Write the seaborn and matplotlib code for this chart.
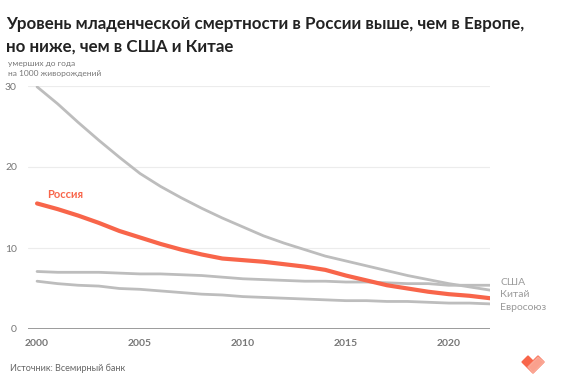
import seaborn as sns
import pandas as pd
import numpy as np
import matplotlib.pyplot as plt
from matplotlib.patches import Polygon

years = list(range(2000, 2023))
russia = [15.5, 14.8, 14.0, 13.1, 12.1, 11.3, 10.5, 9.8, 9.2, 8.7, 8.5, 8.3,
          8.0, 7.7, 7.3, 6.6, 6.0, 5.4, 5.0, 4.6, 4.3, 4.1, 3.8]
china = [29.9, 27.8, 25.5, 23.3, 21.2, 19.2, 17.6, 16.2, 14.9, 13.7, 12.6, 11.5,
         10.6, 9.8, 9.0, 8.4, 7.8, 7.2, 6.6, 6.1, 5.6, 5.2, 4.8]
usa = [7.1, 7.0, 7.0, 7.0, 6.9, 6.8, 6.8, 6.7, 6.6, 6.4, 6.2, 6.1,
       6.0, 5.9, 5.9, 5.8, 5.8, 5.7, 5.6, 5.6, 5.4, 5.4, 5.4]
eu = [5.9, 5.6, 5.4, 5.3, 5.0, 4.9, 4.7, 4.5, 4.3, 4.2, 4.0, 3.9,
      3.8, 3.7, 3.6, 3.5, 3.5, 3.4, 3.4, 3.3, 3.2, 3.2, 3.1]
labels = ["США", "Китай", "Евросоюз"]
label_y = [5.8, 4.2, 2.6]

df = pd.DataFrame({"year": years * 4,
                   "value": china + usa + eu + russia,
                   "country": ["Китай"] * 23 + ["США"] * 23 + ["Евросоюз"] * 23 + ["Россия"] * 23})

sns.set_style("white")
plt.rcParams['font.family'] = ['Lato', 'DejaVu Sans']

RED = "#f8654a"
GREY = "#bdbdbd"

fig = plt.figure(figsize=(5.69, 3.83), dpi=100)
ax = fig.add_axes([28 / 569, (383 - 329) / 383, (490 - 28) / 569, (329 - 86) / 383])

pal = {"Китай": GREY, "США": GREY, "Евросоюз": GREY}
sns.lineplot(data=df[df.country != "Россия"], x="year", y="value", hue="country",
             palette=pal, lw=2, legend=False, ax=ax)
sns.lineplot(data=df[df.country == "Россия"], x="year", y="value", color=RED,
             lw=3, legend=False, ax=ax)

ax.set_xlim(1999.56, 2022)
ax.set_ylim(0, 30)
ax.set_yticks([0, 10, 20, 30])
ax.set_xticks([2000, 2005, 2010, 2015, 2020])
ax.grid(axis="y", color="#ececec", lw=0.8)
ax.axhline(0, color="#8a8a8a", lw=1.2)
for s in ax.spines.values():
    s.set_visible(False)
ax.tick_params(length=0)
ax.tick_params(axis="y", pad=8, labelsize=7.5, labelcolor="#777777")
ax.tick_params(axis="x", pad=7, labelsize=7.5, labelcolor="#777777")
for t in ax.get_xticklabels():
    t.set_fontweight("bold")
ax.set_xlabel("")
ax.set_ylabel("")

ax.text(2000.5, 16.2, "Россия", color=RED, fontsize=8, fontweight="bold")
for lab, yv in zip(labels, label_y):
    ax.text(2022.5, yv, lab, color="#9a9a9a", fontsize=7.5, va="center")

fig.text(6 / 569, 1 - 29 / 383, "Уровень младенческой смертности в России выше, чем в Европе,",
         fontsize=12.2, fontweight="bold", color="#222222")
fig.text(6 / 569, 1 - 52 / 383, "но ниже, чем в США и Китае",
         fontsize=12.2, fontweight="bold", color="#222222")
fig.text(8 / 569, 1 - 66 / 383, "умерших до года", fontsize=6, color="#777777")
fig.text(8 / 569, 1 - 76 / 383, "на 1000 живорождений", fontsize=6, color="#777777")
fig.text(10 / 569, 1 - 371 / 383, "Источник: Всемирный банк", fontsize=6.5, color="#666666")


# logo
def px(x, y):
    return (x / 569, 1 - y / 383)


fig.add_artist(Polygon([px(522, 362), px(528, 356), px(533, 361), px(538, 356),
                        px(544, 362), px(533, 373)], closed=True,
                       transform=fig.transFigure, color=RED))
fig.add_artist(Polygon([px(528, 367), px(538, 357), px(544, 362), px(533, 373)], closed=True,
                       transform=fig.transFigure, color="#fbb09f", alpha=0.8))

fig.savefig("out.png", dpi=100)
